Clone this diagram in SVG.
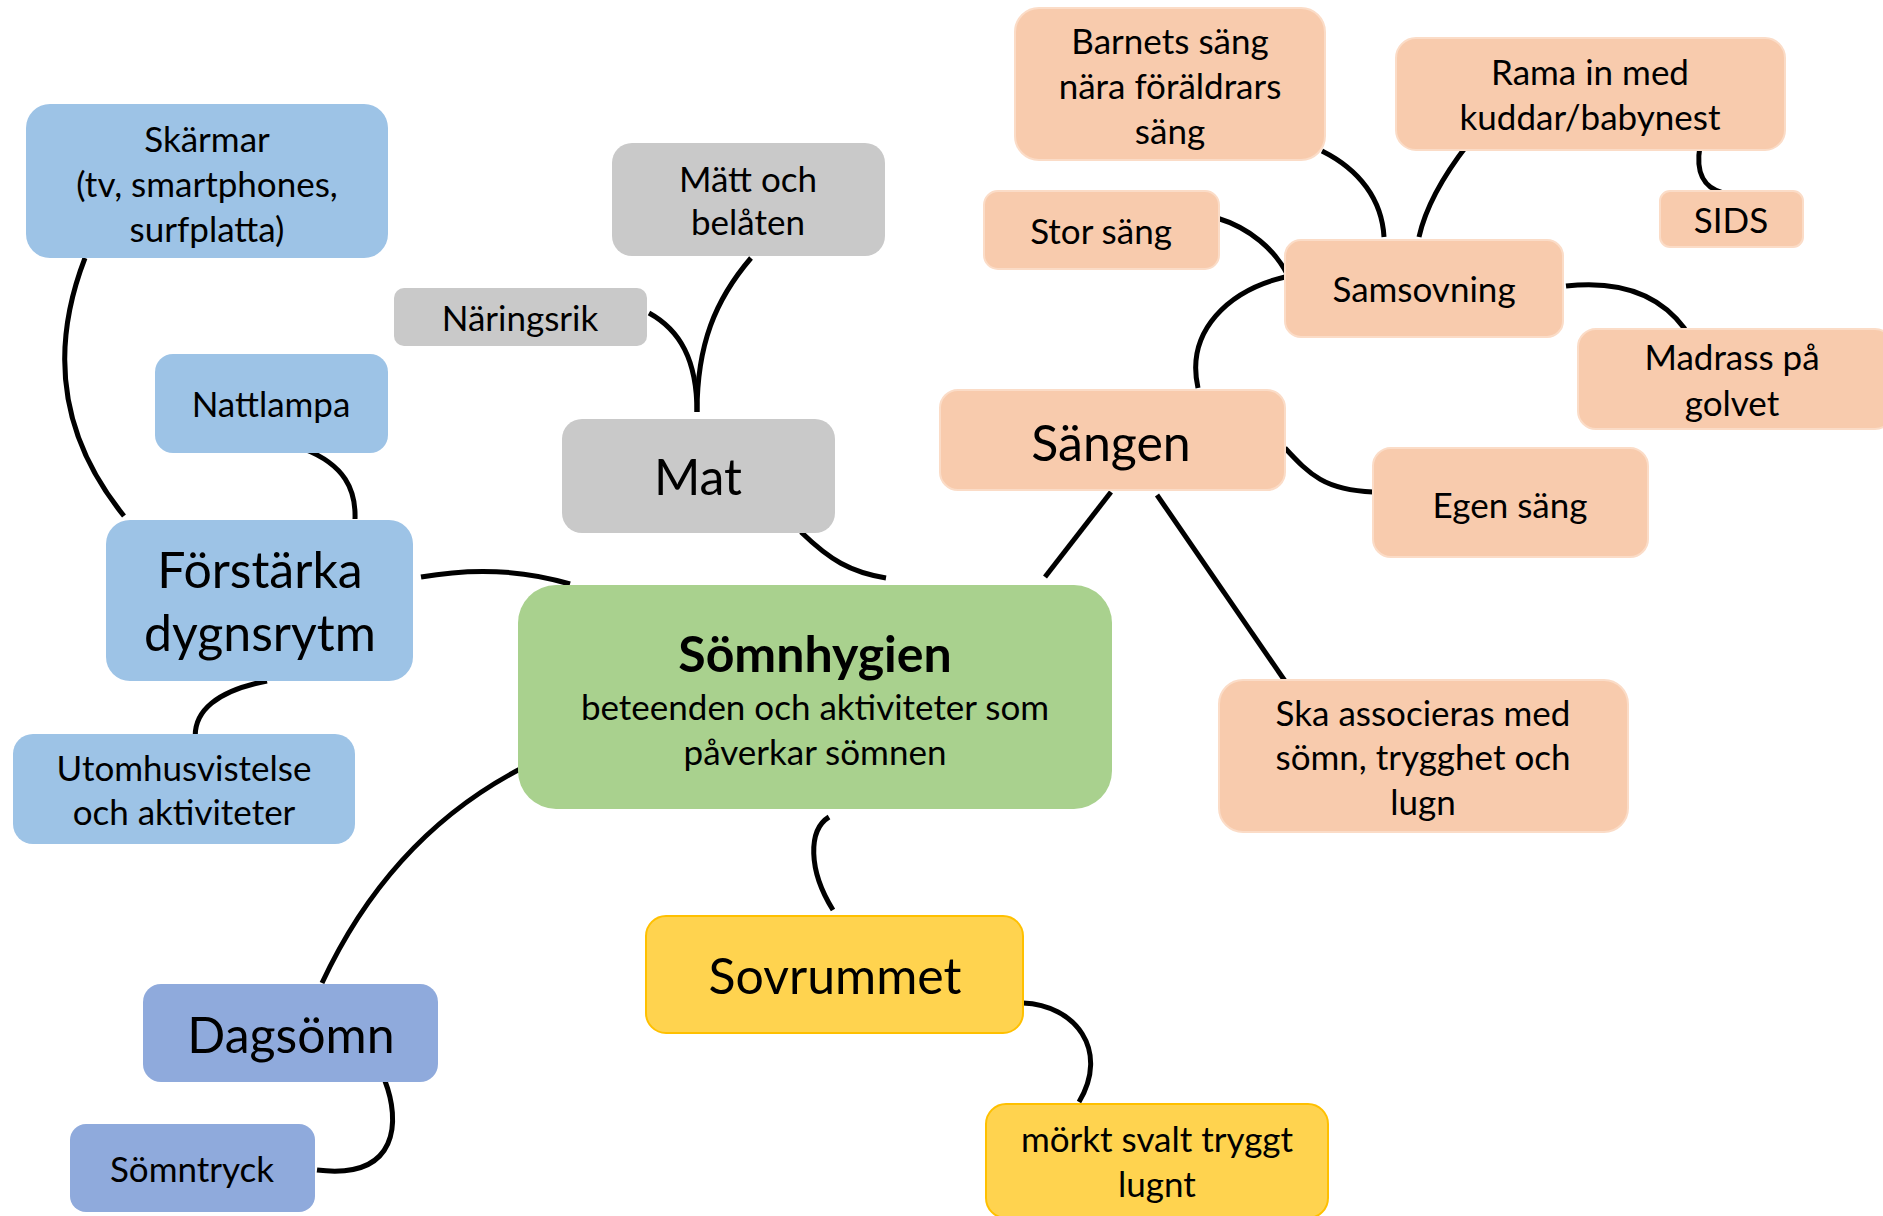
<svg xmlns="http://www.w3.org/2000/svg" width="1883" height="1216" viewBox="0 0 1883 1216">
<style>
.t{font-family:Lato,"Open Sans","Liberation Sans",sans-serif;font-size:35px;fill:#000;text-anchor:middle}
.b{font-size:50px}
.h{font-size:50px;font-weight:bold}
.blue{fill:#9DC3E6}
.dblue{fill:#8FAADC}
.gray{fill:#C9C9C9}
.peach{fill:#F8CBAD;stroke:#FBDCC7;stroke-width:2}
.green{fill:#A9D18E}
.yellow{fill:#FFD34F;stroke:#FFC000;stroke-width:2}
.c{fill:none;stroke:#000;stroke-width:5}
</style>
<rect width="1883" height="1216" fill="#fff"/>
<g id="connectors">
<path class="c" d="M85,258 Q30,400 124,516"/>
<path class="c" d="M304,449 C345,465 356,490 355,519"/>
<path class="c" d="M421,577 Q500,563 570,584"/>
<path class="c" d="M267,681 C220,690 190,710 196,744"/>
<path class="c" d="M649,313 C680,330 697,360 697,412"/>
<path class="c" d="M751,258 C715,300 697,345 697,412"/>
<path class="c" d="M801,532 C830,560 850,572 886,578"/>
<path class="c" d="M1322,151 C1360,170 1382,200 1384,237"/>
<path class="c" d="M1468,144 C1440,180 1425,210 1419,237"/>
<path class="c" d="M1700,146 C1695,175 1705,188 1723,193"/>
<path class="c" d="M1217,218 C1250,228 1275,250 1287,274"/>
<path class="c" d="M1285,277 C1230,290 1185,330 1198,388"/>
<path class="c" d="M1566,286 C1620,280 1660,295 1685,329"/>
<path class="c" d="M1285,448 C1310,475 1325,490 1373,492"/>
<path class="c" d="M1111,492 L1045,577"/>
<path class="c" d="M1157,495 L1285,681"/>
<path class="c" d="M829,817 C808,830 808,870 833,910"/>
<path class="c" d="M1023,1003 C1075,1005 1110,1050 1079,1102"/>
<path class="c" d="M524,767 C440,810 370,880 322,983"/>
<path class="c" d="M385,1081 C400,1120 400,1180 317,1170"/>
</g>
<g id="skarmar"><rect class="blue" x="26" y="104" width="362" height="154" rx="24"/>
<text class="t" x="207" y="152">Skärmar</text><text class="t" x="207" y="197">(tv, smartphones,</text><text class="t" x="207" y="242">surfplatta)</text></g>
<g id="nattlampa"><rect class="blue" x="155" y="354" width="233" height="99" rx="18"/>
<text class="t" x="271" y="417">Nattlampa</text></g>
<g id="forstarka"><rect class="blue" x="106" y="520" width="307" height="161" rx="24"/>
<text class="t b" x="260" y="588">Förstärka</text><text class="t b" x="260" y="651">dygnsrytm</text></g>
<g id="utomhus"><rect class="blue" x="13" y="734" width="342" height="110" rx="20"/>
<text class="t" x="184" y="781">Utomhusvistelse</text><text class="t" x="184" y="825">och aktiviteter</text></g>
<g id="dagsomn"><rect class="dblue" x="143" y="984" width="295" height="98" rx="18"/>
<text class="t b" x="291" y="1053">Dagsömn</text></g>
<g id="somntryck"><rect class="dblue" x="70" y="1124" width="245" height="88" rx="16"/>
<text class="t" x="192" y="1182">Sömntryck</text></g>
<g id="naringsrik"><rect class="gray" x="394" y="288" width="253" height="58" rx="10"/>
<text class="t" x="520" y="331">Näringsrik</text></g>
<g id="matt"><rect class="gray" x="612" y="143" width="273" height="113" rx="20"/>
<text class="t" x="748" y="192">Mätt och</text><text class="t" x="748" y="235">belåten</text></g>
<g id="mat"><rect class="gray" x="562" y="419" width="273" height="114" rx="20"/>
<text class="t b" x="698" y="495">Mat</text></g>
<g id="somnhygien"><rect class="green" x="518" y="585" width="594" height="224" rx="38"/>
<text class="t h" x="815" y="672">Sömnhygien</text><text class="t" x="815" y="720">beteenden och aktiviteter som</text><text class="t" x="815" y="765">påverkar sömnen</text></g>
<g id="sovrummet"><rect class="yellow" x="646" y="916" width="377" height="117" rx="20"/>
<text class="t b" x="835" y="994">Sovrummet</text></g>
<g id="morkt"><rect class="yellow" x="986" y="1104" width="342" height="114" rx="20"/>
<text class="t" x="1157" y="1152">mörkt svalt tryggt</text><text class="t" x="1157" y="1197">lugnt</text></g>
<g id="sangen"><rect class="peach" x="940" y="390" width="345" height="100" rx="18"/>
<text class="t b" x="1111" y="461">Sängen</text></g>
<g id="barnets"><rect class="peach" x="1015" y="8" width="310" height="152" rx="24"/>
<text class="t" x="1170" y="54">Barnets säng</text><text class="t" x="1170" y="99">nära föräldrars</text><text class="t" x="1170" y="144">säng</text></g>
<g id="rama"><rect class="peach" x="1396" y="38" width="389" height="112" rx="20"/>
<text class="t" x="1590" y="85">Rama in med</text><text class="t" x="1590" y="130">kuddar/babynest</text></g>
<g id="sids"><rect class="peach" x="1660" y="191" width="143" height="56" rx="10"/>
<text class="t" x="1731" y="233">SIDS</text></g>
<g id="storsang"><rect class="peach" x="984" y="191" width="235" height="78" rx="14"/>
<text class="t" x="1101" y="244">Stor säng</text></g>
<g id="samsovning"><rect class="peach" x="1285" y="240" width="278" height="97" rx="16"/>
<text class="t" x="1424" y="302">Samsovning</text></g>
<g id="madrass"><rect class="peach" x="1578" y="329" width="315" height="100" rx="18"/>
<text class="t" x="1732" y="370">Madrass på</text><text class="t" x="1732" y="416">golvet</text></g>
<g id="egensang"><rect class="peach" x="1373" y="448" width="275" height="109" rx="18"/>
<text class="t" x="1510" y="518">Egen säng</text></g>
<g id="ska"><rect class="peach" x="1219" y="680" width="409" height="152" rx="24"/>
<text class="t" x="1423" y="726">Ska associeras med</text><text class="t" x="1423" y="770">sömn, trygghet och</text><text class="t" x="1423" y="815">lugn</text></g>
</svg>
